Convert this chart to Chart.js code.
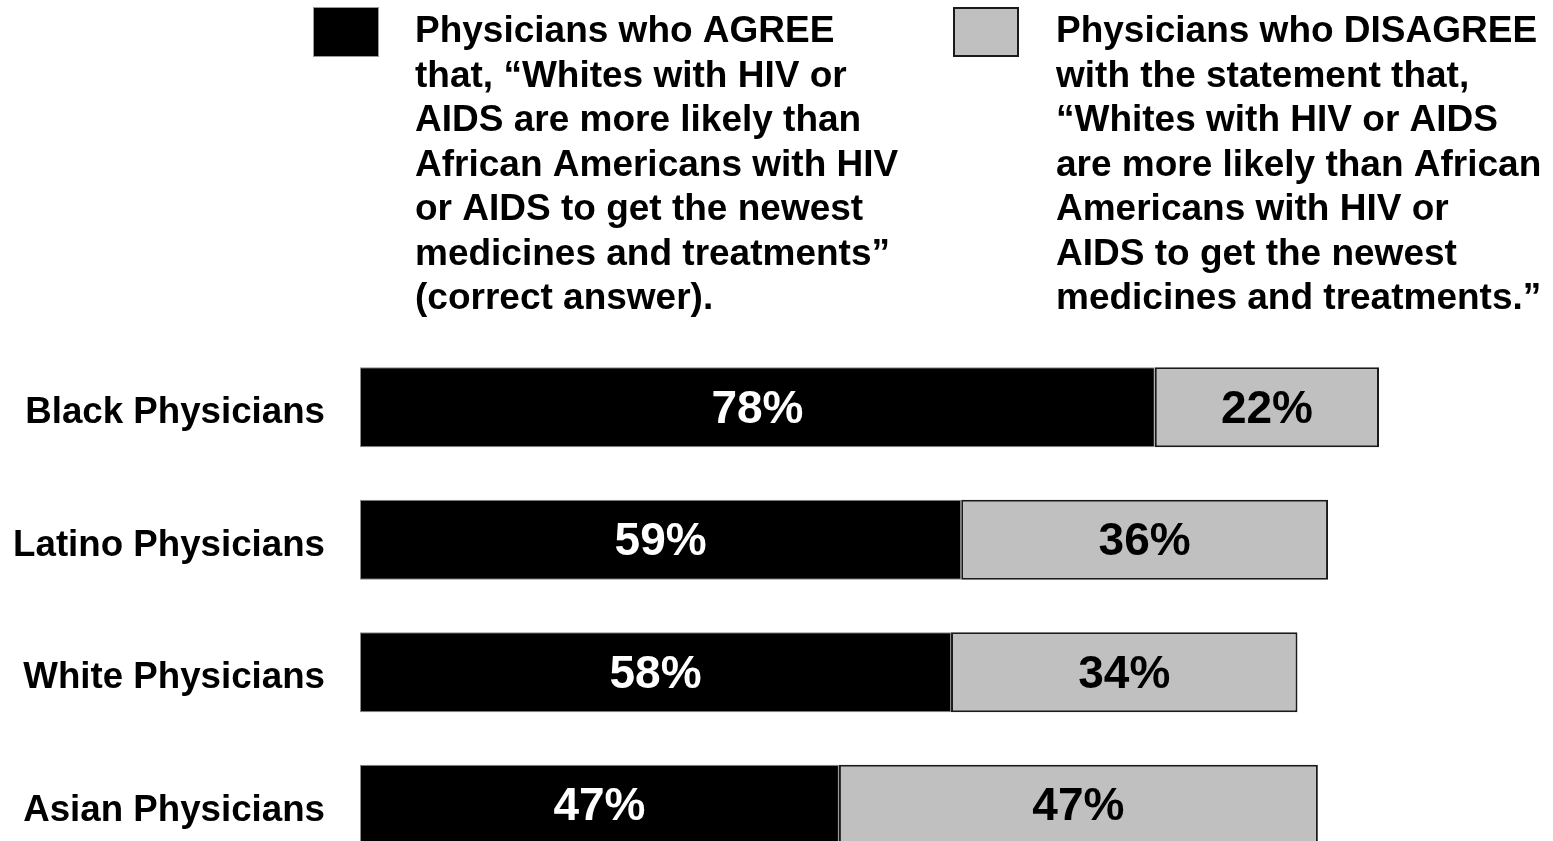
<!DOCTYPE html>
<html>
<head>
<meta charset="utf-8">
<title>Physician survey</title>
<script src="https://cdn.jsdelivr.net/npm/chart.js@4/dist/chart.umd.min.js"></script>
<style>
  html, body { margin: 0; padding: 0; background: #fff; overflow: hidden; }
  canvas { display: block; }
</style>
</head>
<body>
<canvas id="surveyChart" width="1553" height="928" style="width:1553px;height:928px"></canvas>
<script>
var groups = ['Black Physicians', 'Latino Physicians', 'White Physicians', 'Asian Physicians'];
var agree = [78, 59, 58, 47];
var disagree = [22, 36, 34, 47];

var agreeText = [
  'Physicians who AGREE',
  'that, \u201cWhites with HIV or',
  'AIDS are more likely than',
  'African Americans with HIV',
  'or AIDS to get the newest',
  'medicines and treatments\u201d',
  '(correct answer).'
];
var disagreeText = [
  'Physicians who DISAGREE',
  'with the statement that,',
  '\u201cWhites with HIV or AIDS',
  'are more likely than African',
  'Americans with HIV or',
  'AIDS to get the newest',
  'medicines and treatments.\u201d'
];

var FONT = '"Liberation Sans", Arial, Helvetica, sans-serif';
Chart.defaults.font.family = FONT;

// legend boxes + wrapped statement text above the bars
var keyPlugin = {
  id: 'statementKey',
  afterDraw: function(chart) {
    var ctx = chart.ctx;
    var keys = [
      { x: 313, fill: '#000000', stroke: '#999999', lw: 1, lines: agreeText, tx: 415 },
      { x: 953, fill: '#c0c0c0', stroke: '#1a1a1a', lw: 2, lines: disagreeText, tx: 1056 }
    ];
    ctx.save();
    keys.forEach(function(k) {
      ctx.fillStyle = k.fill;
      ctx.fillRect(k.x, 7, 66, 50);
      ctx.strokeStyle = k.stroke;
      ctx.lineWidth = k.lw;
      ctx.strokeRect(k.x + k.lw / 2, 7 + k.lw / 2, 66 - k.lw, 50 - k.lw);
      ctx.fillStyle = '#000';
      ctx.font = 'bold 37px ' + FONT;
      ctx.textAlign = 'left';
      ctx.textBaseline = 'alphabetic';
      k.lines.forEach(function(line, i) {
        ctx.fillText(line, k.tx, 42 + i * 44.5);
      });
    });
    ctx.restore();
  }
};

// percentage labels centred in each bar segment
var valuePlugin = {
  id: 'segmentValues',
  afterDatasetsDraw: function(chart) {
    var ctx = chart.ctx;
    ctx.save();
    ctx.font = 'bold 46px ' + FONT;
    ctx.textAlign = 'center';
    ctx.textBaseline = 'middle';
    chart.data.datasets.forEach(function(ds, di) {
      var meta = chart.getDatasetMeta(di);
      meta.data.forEach(function(bar, i) {
        ctx.fillStyle = di === 0 ? '#ffffff' : '#000000';
        ctx.fillText(ds.data[i] + '%', (bar.x + bar.base) / 2, bar.y + 3);
      });
    });
    ctx.restore();
  }
};

new Chart(document.getElementById('surveyChart'), {
  type: 'bar',
  data: {
    labels: groups,
    datasets: [
      {
        label: 'Agree',
        data: agree,
        backgroundColor: '#000000',
        borderColor: '#8c8c8c',
        borderWidth: 1,
        borderSkipped: false,
        barPercentage: 0.605,
        categoryPercentage: 1
      },
      {
        label: 'Disagree',
        data: disagree,
        backgroundColor: '#c0c0c0',
        borderColor: '#1a1a1a',
        borderWidth: 2,
        borderSkipped: false,
        barPercentage: 0.605,
        categoryPercentage: 1
      }
    ]
  },
  options: {
    indexAxis: 'y',
    responsive: false,
    maintainAspectRatio: false,
    animation: false,
    layout: { padding: { left: 0, right: 174, top: 341, bottom: 8 } },
    plugins: {
      legend: { display: false },
      tooltip: { enabled: false }
    },
    scales: {
      x: {
        stacked: true,
        min: 0,
        max: 100,
        display: false
      },
      y: {
        stacked: true,
        grid: { display: false, drawTicks: false },
        border: { display: false },
        ticks: {
          color: '#000',
          padding: 35,
          labelOffset: 6,
          font: { size: 36.7, weight: 'bold' }
        },
        afterFit: function(scale) { scale.width = 360; }
      }
    }
  },
  plugins: [keyPlugin, valuePlugin]
});
</script>
</body>
</html>
